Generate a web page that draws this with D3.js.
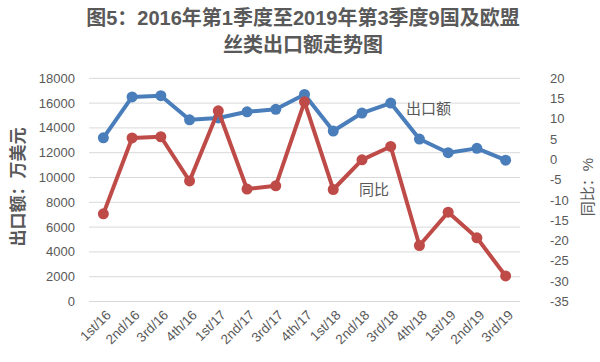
<!DOCTYPE html>
<html>
<head>
<meta charset="utf-8">
<script src="https://cdn.jsdelivr.net/npm/d3@7.9.0/dist/d3.min.js"></script>
<style>
  body { margin: 0; background: #fff; }
  svg text { font-family: "Liberation Sans", "Noto Sans CJK SC", sans-serif; fill: #595959; }
</style>
</head>
<body>
<svg id="chart" width="600" height="362"></svg>
<script>
const quarters = ['1st/16','2nd/16','3rd/16','4th/16','1st/17','2nd/17','3rd/17','4th/17',
  '1st/18','2nd/18','3rd/18','4th/18','1st/19','2nd/19','3rd/19'];
const exportValues = [13200, 16500, 16600, 14650, 14800, 15300, 15500, 16700,
  13750, 15200, 16000, 13100, 12000, 12350, 11400];
const yoyValues = [-13.4, 5.3, 5.6, -5.3, 12.0, -7.3, -6.5, 14.2,
  -7.4, -0.1, 3.2, -21.2, -13.0, -19.3, -28.7];
const leftTicks = d3.range(0, 18001, 2000);
const rightTicks = d3.range(-35, 21, 5);

const svg = d3.select('#chart');
const plotLeft = 89, plotRight = 520, plotTop = 78.3, plotBottom = 301.5;

const x = d3.scaleBand().domain(quarters).range([plotLeft, plotRight]);
const yL = d3.scaleLinear().domain([0, 18000]).range([plotBottom, plotTop]);
const yR = d3.scaleLinear().domain([-35, 20]).range([plotBottom, plotTop]);

// title
svg.append('text').attr('x', 303).attr('y', 25).attr('text-anchor', 'middle')
  .attr('font-size', 20).attr('font-weight', 'bold')
  .text('图5：2016年第1季度至2019年第3季度9国及欧盟');
svg.append('text').attr('x', 303).attr('y', 52).attr('text-anchor', 'middle')
  .attr('font-size', 20).attr('font-weight', 'bold')
  .text('丝类出口额走势图');

// grid
svg.append('g').selectAll('line').data(leftTicks).join('line')
  .attr('x1', plotLeft).attr('x2', plotRight)
  .attr('y1', d => yL(d)).attr('y2', d => yL(d))
  .attr('stroke', '#d9d9d9').attr('stroke-width', 1);

// left axis labels
svg.append('g').selectAll('text').data(leftTicks).join('text')
  .attr('x', 75).attr('y', d => yL(d)).attr('dy', '0.35em')
  .attr('text-anchor', 'end').attr('font-size', 13)
  .text(d => d);

// right axis labels
svg.append('g').selectAll('text').data(rightTicks).join('text')
  .attr('x', 550).attr('y', d => yR(d)).attr('dy', '0.35em')
  .attr('text-anchor', 'start').attr('font-size', 13)
  .text(d => d);

// x labels
svg.append('g').selectAll('text').data(quarters).join('text')
  .attr('transform', d => `translate(${x(d) + x.bandwidth() / 2 + 5},${plotBottom + 11}) rotate(-45)`)
  .attr('text-anchor', 'end').attr('dy', '0.35em').attr('font-size', 13.5)
  .text(d => d);

// axis titles
svg.append('text').attr('transform', 'translate(18,187) rotate(-90)')
  .attr('text-anchor', 'middle').attr('dy', '0.35em').attr('font-size', 17)
  .attr('font-weight', 'bold').text('出口额：万美元');
svg.append('text').attr('transform', 'translate(588,187) rotate(-90)')
  .attr('text-anchor', 'middle').attr('dy', '0.35em').attr('font-size', 15)
  .text('同比：%');

const cx = (d, i) => x(quarters[i]) + x.bandwidth() / 2;

function drawSeries(values, yScale, color) {
  const line = d3.line().x((d, i) => cx(d, i)).y(d => yScale(d));
  svg.append('path').datum(values)
    .attr('d', line).attr('fill', 'none')
    .attr('stroke', color).attr('stroke-width', 4).attr('stroke-linejoin', 'round');
  svg.append('g').selectAll('circle').data(values).join('circle')
    .attr('cx', cx).attr('cy', d => yScale(d)).attr('r', 5.5)
    .attr('fill', color);
}

drawSeries(exportValues, yL, '#4a7ebb');
drawSeries(yoyValues, yR, '#be4b48');

// series labels
svg.append('text').attr('x', 406).attr('y', 109).attr('dy', '0.35em')
  .attr('font-size', 15).text('出口额');
svg.append('text').attr('x', 359).attr('y', 190).attr('dy', '0.35em')
  .attr('font-size', 15).text('同比');
</script>
</body>
</html>
